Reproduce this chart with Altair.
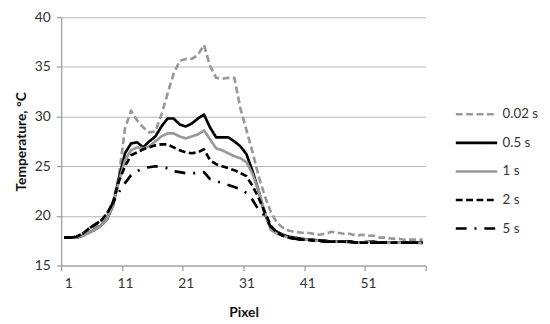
import altair as alt
import pandas as pd

series_names = ["0.02 s", "0.5 s", "1 s", "2 s", "5 s"]
pixel = list(range(1, 61))

s002 = [17.8, 17.8, 17.8, 18.0, 18.4, 18.8, 19.3, 20.0, 21.3, 24.0,
        28.8, 30.6, 29.6, 28.9, 28.4, 28.5, 30.2, 32.3, 34.3, 35.6,
        35.8, 35.8, 36.2, 37.2, 35.1, 33.9, 33.8, 33.9, 33.9, 30.8,
        28.6, 26.4, 24.0, 22.0, 20.4, 19.3, 18.8, 18.5, 18.4, 18.3,
        18.3, 18.2, 18.1, 18.2, 18.4, 18.3, 18.2, 18.2, 18.0, 18.1,
        18.0, 18.0, 17.8, 17.8, 17.7, 17.7, 17.6, 17.6, 17.6, 17.6]
s05 = [17.8, 17.8, 17.8, 18.0, 18.3, 18.6, 19.0, 19.6, 21.0, 23.8,
       26.3, 27.3, 27.4, 26.9, 27.5, 28.0, 29.0, 29.8, 29.8, 29.2,
       29.0, 29.3, 29.8, 30.2, 28.9, 27.9, 27.9, 27.9, 27.5, 27.0,
       26.2, 24.5, 22.5, 20.2, 18.8, 18.4, 18.1, 17.9, 17.8, 17.7,
       17.6, 17.6, 17.5, 17.5, 17.4, 17.4, 17.4, 17.4, 17.3, 17.3,
       17.4, 17.4, 17.3, 17.3, 17.3, 17.3, 17.3, 17.3, 17.3, 17.3]
s1 = [17.8, 17.8, 17.8, 18.0, 18.3, 18.6, 19.0, 19.6, 21.0, 23.5,
      25.6, 26.6, 26.9, 26.8, 27.0, 27.5, 28.0, 28.3, 28.3, 28.0,
      27.8, 28.0, 28.2, 28.6, 27.7, 26.8, 26.6, 26.3, 26.0, 25.8,
      25.4, 24.2, 22.5, 20.4, 18.6, 18.2, 18.0, 17.8, 17.7, 17.6,
      17.6, 17.5, 17.5, 17.4, 17.4, 17.4, 17.4, 17.3, 17.3, 17.3,
      17.4, 17.3, 17.3, 17.3, 17.3, 17.3, 17.3, 17.3, 17.3, 17.2]
s2 = [17.8, 17.8, 17.9, 18.2, 18.7, 19.1, 19.5, 20.2, 21.3, 23.5,
      25.0, 26.1, 26.4, 26.7, 26.9, 27.1, 27.2, 27.2, 26.9, 26.6,
      26.4, 26.3, 26.4, 26.7, 25.6, 25.2, 25.0, 24.8, 24.6, 24.3,
      24.0, 23.0, 21.8, 20.4, 19.0, 18.3, 18.0, 17.8, 17.7, 17.6,
      17.6, 17.5, 17.5, 17.4, 17.4, 17.4, 17.4, 17.4, 17.3, 17.3,
      17.3, 17.3, 17.3, 17.3, 17.3, 17.3, 17.3, 17.3, 17.3, 17.3]
s5 = [17.8, 17.8, 17.9, 18.2, 18.7, 19.1, 19.5, 20.2, 21.3, 22.4,
      23.3, 24.1, 24.5, 24.8, 24.9, 25.0, 24.9, 24.8, 24.5, 24.4,
      24.3, 24.3, 24.3, 24.4, 23.7, 23.5, 23.3, 23.1, 22.9, 22.7,
      22.3, 21.6, 20.6, 20.0, 18.9, 18.4, 18.0, 17.8, 17.7, 17.6,
      17.6, 17.5, 17.5, 17.4, 17.4, 17.4, 17.4, 17.4, 17.3, 17.3,
      17.3, 17.3, 17.3, 17.3, 17.3, 17.3, 17.3, 17.3, 17.3, 17.3]

y_ticks = [15, 20, 25, 30, 35, 40]
x_tick_bounds = [0.5, 10.5, 20.5, 30.5, 40.5, 50.5, 60.5]

series_colors = ["#999999", "#000000", "#999999", "#000000", "#000000"]
series_dashes = [[7, 3.5], [1, 0], [1, 0], [7, 3.5], [11, 8, 2, 8]]

rows = []
for name, vals in zip(series_names, [s002, s05, s1, s2, s5]):
    for p, v in zip(pixel, vals):
        rows.append({"Pixel": p, "Temperature": v, "series": name})
df = pd.DataFrame(rows)

font = "Lato"

legend_opts = dict(title=None, orient="none", legendX=399, legendY=76,
                   symbolType="stroke", symbolSize=1764, labelLimit=120,
                   symbolStrokeWidth=2.6, rowPadding=-2, labelOffset=4)

chart = alt.Chart(df).mark_line(strokeWidth=2.7, strokeCap="butt", strokeJoin="round").encode(
    x=alt.X("Pixel:Q",
            scale=alt.Scale(domain=[0.5, 60.5], nice=False, zero=False),
            axis=alt.Axis(title="Pixel", values=x_tick_bounds, grid=False,
                          labelExpr="datum.value > 55 ? '' : format(datum.value + 0.5, 'd')",
                          labelOffset=3, tickSize=5, labelPadding=6,
                          titlePadding=16)),
    y=alt.Y("Temperature:Q",
            scale=alt.Scale(domain=[15, 40], nice=False, zero=False),
            axis=alt.Axis(title="Temperature, °C", values=y_ticks, grid=True,
                          tickSize=5, labelPadding=6, titlePadding=6)),
    color=alt.Color("series:N",
                    scale=alt.Scale(domain=series_names, range=series_colors),
                    legend=alt.Legend(**legend_opts)),
    strokeDash=alt.StrokeDash("series:N",
                              scale=alt.Scale(domain=series_names, range=series_dashes),
                              legend=alt.Legend(**legend_opts)),
).properties(
    width=370, height=252,
    autosize=alt.AutoSizeParams(type="none"),
    padding={"left": 54, "top": 7, "right": 118, "bottom": 57},
).configure_view(stroke=None).configure_axis(
    labelFont=font, titleFont=font, labelFontSize=14, titleFontSize=14,
    titleFontWeight="bold", labelColor="#333333", titleColor="#111111",
    domainColor="#9a9a9a", tickColor="#9a9a9a", gridColor="#b8b8b8",
    domainWidth=1.2, tickWidth=1.2, gridWidth=1.2,
).configure_legend(
    labelFont=font, labelFontSize=13.5, labelColor="#333333",
)

chart.save("out.html", embed_options={"renderer": "svg", "actions": False})
